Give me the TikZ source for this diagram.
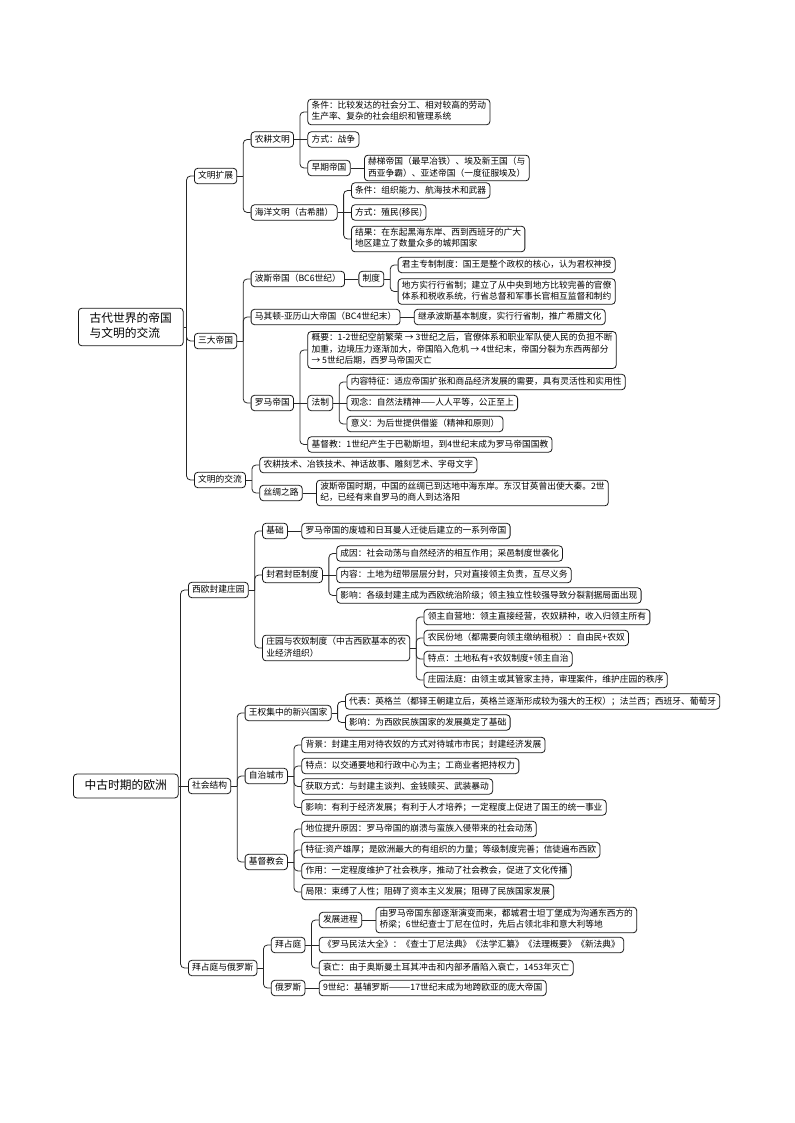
\documentclass[tikz,border=0pt]{standalone}
\usepackage{fontspec}
\setmainfont{Noto Sans CJK SC}
\newcommand\mmstrut{\rule[-2.1pt]{0pt}{8.5pt}}
\newcommand\mmrootstrut{\rule[-2.8pt]{0pt}{11.5pt}}
% branch: parent, first child (defines spine), bent children
\newcommand\mmb[3]{%
  \coordinate (#1-sx) at ([xshift=-5.6pt]#2.west);
  \draw[conn] (#1.east) -- (#1-sx |- #1.east);
  \foreach \mmc in {#3} {\draw[conn] (#1-sx |- #1.east) |- (\mmc.west);}%
}
% child node placed right of its parent: name, parent, y, text
\newcommand\kid[4]{%
  \path (#2.east) ++(13.5,0) coordinate (#1-px) (0,#3) coordinate (#1-py);
  \node[box] (#1) at (#1-px |- #1-py) {#4};%
}
\begin{document}
\begin{tikzpicture}[x=0.75pt,y=-0.75pt,
  basebox/.style={draw=black!90, line width=0.6pt, rounded corners=2.5pt, fill=white, align=left, anchor=west},
  box/.style={basebox, inner xsep=2.8pt, inner ysep=1.5pt, font=\fontsize{6.55pt}{8.5pt}\selectfont, execute at begin node=\mmstrut, execute at end node=\mmstrut},
  rootbox/.style={basebox, inner xsep=8.5pt, inner ysep=3.2pt, font=\fontsize{8.8pt}{11.5pt}\selectfont, execute at begin node=\mmrootstrut, execute at end node=\mmrootstrut},
  conn/.style={draw=black!85, line width=0.6pt, rounded corners=3pt}]
\useasboundingbox[fill=white] (0,0) rectangle (794,1123);

% ---------- top map ----------
\node[rootbox] (R1) at (78,327) {古代世界的帝国\\与文明的交流};
\node[box] (A) at (194,176) {文明扩展};
\node[box] (B) at (194,341) {三大帝国};
\node[box] (C) at (194,480) {文明的交流};

\kid{A1}{A}{139.5}{农耕文明}
\kid{A2}{A}{212.5}{海洋文明（古希腊）}
\kid{A11}{A1}{112}{条件：比较发达的社会分工、相对较高的劳动\\生产率、复杂的社会组织和管理系统}
\kid{A12}{A1}{139.5}{方式：战争}
\kid{A13}{A1}{168}{早期帝国}
\kid{A131}{A13}{168}{赫梯帝国（最早冶铁）、埃及新王国（与\\西亚争霸）、亚述帝国（一度征服埃及）}
\kid{A21}{A2}{190.5}{条件：组织能力、航海技术和武器}
\kid{A22}{A2}{212.5}{方式：殖民(移民)}
\kid{A23}{A2}{239}{结果：在东起黑海东岸、西到西班牙的广大\\地区建立了数量众多的城邦国家}

\kid{B1}{B}{279}{波斯帝国（BC6世纪）}
\kid{B11}{B1}{279}{制度}
\kid{B111}{B11}{265}{君主专制制度：国王是整个政权的核心，认为君权神授}
\kid{B112}{B11}{291.5}{地方实行行省制；建立了从中央到地方比较完善的官僚\\体系和税收系统，行省总督和军事长官相互监督和制约}
\kid{B2}{B}{317}{马其顿-亚历山大帝国（BC4世纪末）}
\kid{B21}{B2}{317}{继承波斯基本制度，实行行省制，推广希腊文化}
\kid{B3}{B}{403}{罗马帝国}
\kid{B32}{B3}{403}{法制}
\node[box] (B31) at (B32.west |- 0,350) {概要：1-2世纪空前繁荣 → 3世纪之后，官僚体系和职业军队使人民的负担不断\\加重，边境压力逐渐加大，帝国陷入危机 → 4世纪末，帝国分裂为东西两部分\\→ 5世纪后期，西罗马帝国灭亡};
\kid{B33}{B3}{444.5}{基督教：1世纪产生于巴勒斯坦，到4世纪末成为罗马帝国国教}
\kid{B321}{B32}{382}{内容特征：适应帝国扩张和商品经济发展的需要，具有灵活性和实用性}
\kid{B322}{B32}{403}{观念：自然法精神——人人平等，公正至上}
\kid{B323}{B32}{424}{意义：为后世提供借鉴（精神和原则）}

\kid{C1}{C}{465}{农耕技术、冶铁技术、神话故事、雕刻艺术、字母文字}
\kid{C2}{C}{493}{丝绸之路}
\kid{C21}{C2}{493}{波斯帝国时期，中国的丝绸已到达地中海东岸。东汉甘英曾出使大秦。2世\\纪，已经有来自罗马的商人到达洛阳}

% ---------- bottom map ----------
\node[rootbox] (R2) at (73,786) {中古时期的欧洲};
\node[box] (D) at (188,590) {西欧封建庄园};
\node[box] (E) at (188,786) {社会结构};
\node[box] (F) at (188,968) {拜占庭与俄罗斯};

\kid{D1}{D}{531}{基础}
\kid{D11}{D1}{531}{罗马帝国的废墟和日耳曼人迁徙后建立的一系列帝国}
\kid{D2}{D}{575}{封君封臣制度}
\kid{D21}{D2}{553.5}{成因：社会动荡与自然经济的相互作用；采邑制度世袭化}
\kid{D22}{D2}{575}{内容：土地为纽带层层分封，只对直接领主负责，互尽义务}
\kid{D23}{D2}{595.5}{影响：各级封建主成为西欧统治阶级；领主独立性较强导致分裂割据局面出现}
\kid{D3}{D}{648}{庄园与农奴制度（中古西欧基本的农\\业经济组织）}
\kid{D31}{D3}{617}{领主自营地：领主直接经营，农奴耕种，收入归领主所有}
\kid{D32}{D3}{638}{农民份地（都需要向领主缴纳租税）：自由民+农奴}
\kid{D33}{D3}{659}{特点：土地私有+农奴制度+领主自治}
\kid{D34}{D3}{680}{庄园法庭：由领主或其管家主持，审理案件，维护庄园的秩序}

\kid{E1}{E}{713}{王权集中的新兴国家}
\kid{E11}{E1}{701.5}{代表：英格兰（都铎王朝建立后，英格兰逐渐形成较为强大的王权）；法兰西；西班牙、葡萄牙}
\kid{E12}{E1}{722.5}{影响：为西欧民族国家的发展奠定了基础}
\kid{E2}{E}{776}{自治城市}
\kid{E21}{E2}{745}{背景：封建主用对待农奴的方式对待城市市民；封建经济发展}
\kid{E22}{E2}{766}{特点：以交通要地和行政中心为主；工商业者把持权力}
\kid{E23}{E2}{786.5}{获取方式：与封建主谈判、金钱赎买、武装暴动}
\kid{E24}{E2}{807.5}{影响：有利于经济发展；有利于人才培养；一定程度上促进了国王的统一事业}
\kid{E3}{E}{862}{基督教会}
\kid{E31}{E3}{829}{地位提升原因：罗马帝国的崩溃与蛮族入侵带来的社会动荡}
\kid{E32}{E3}{850}{特征:资产雄厚；是欧洲最大的有组织的力量；等级制度完善；信徒遍布西欧}
\kid{E33}{E3}{871}{作用：一定程度维护了社会秩序，推动了社会教会，促进了文化传播}
\kid{E34}{E3}{892}{局限：束缚了人性；阻碍了资本主义发展；阻碍了民族国家发展}

\kid{F1}{F}{945}{拜占庭}
\kid{F11}{F1}{920}{发展进程}
\kid{F111}{F11}{920}{由罗马帝国东部逐渐演变而来，都城君士坦丁堡成为沟通东西方的\\桥梁；6世纪查士丁尼在位时，先后占领北非和意大利等地}
\kid{F12}{F1}{945}{《罗马民法大全》：《查士丁尼法典》《法学汇纂》《法理概要》《新法典》}
\kid{F13}{F1}{968}{衰亡：由于奥斯曼土耳其冲击和内部矛盾陷入衰亡，1453年灭亡}
\kid{F2}{F}{988}{俄罗斯}
\kid{F21}{F2}{988}{9世纪：基辅罗斯———17世纪末成为地跨欧亚的庞大帝国}

% ---------- connectors ----------
\mmb{R1}{A}{A,B,C}
\mmb{A}{A1}{A1,A2}
\mmb{A1}{A11}{A11,A13}
\draw[conn] (A1.east) -- (A12.west);
\draw[conn] (A13.east) -- (A131.west);
\mmb{A2}{A21}{A21,A23}
\draw[conn] (A2.east) -- (A22.west);
\mmb{B}{B1}{B1,B2,B3}
\draw[conn] (B1.east) -- (B11.west);
\mmb{B11}{B111}{B111,B112}
\draw[conn] (B2.east) -- (B21.west);
\mmb{B3}{B32}{B31,B33}
\draw[conn] (B3.east) -- (B32.west);
\mmb{B32}{B321}{B321,B323}
\draw[conn] (B32.east) -- (B322.west);
\mmb{C}{C1}{C1,C2}
\draw[conn] (C2.east) -- (C21.west);

\mmb{R2}{D}{D,F}
\draw[conn] (R2.east) -- (E.west);
\mmb{D}{D1}{D1,D2,D3}
\draw[conn] (D1.east) -- (D11.west);
\mmb{D2}{D21}{D21,D23}
\draw[conn] (D2.east) -- (D22.west);
\mmb{D3}{D31}{D31,D32,D33,D34}
\mmb{E}{E1}{E1,E2,E3}
\mmb{E1}{E11}{E11,E12}
\mmb{E2}{E21}{E21,E22,E23,E24}
\mmb{E3}{E31}{E31,E32,E33,E34}
\mmb{F}{F1}{F1,F2}
\mmb{F1}{F11}{F11,F13}
\draw[conn] (F1.east) -- (F12.west);
\draw[conn] (F11.east) -- (F111.west);
\draw[conn] (F2.east) -- (F21.west);
\end{tikzpicture}
\end{document}
